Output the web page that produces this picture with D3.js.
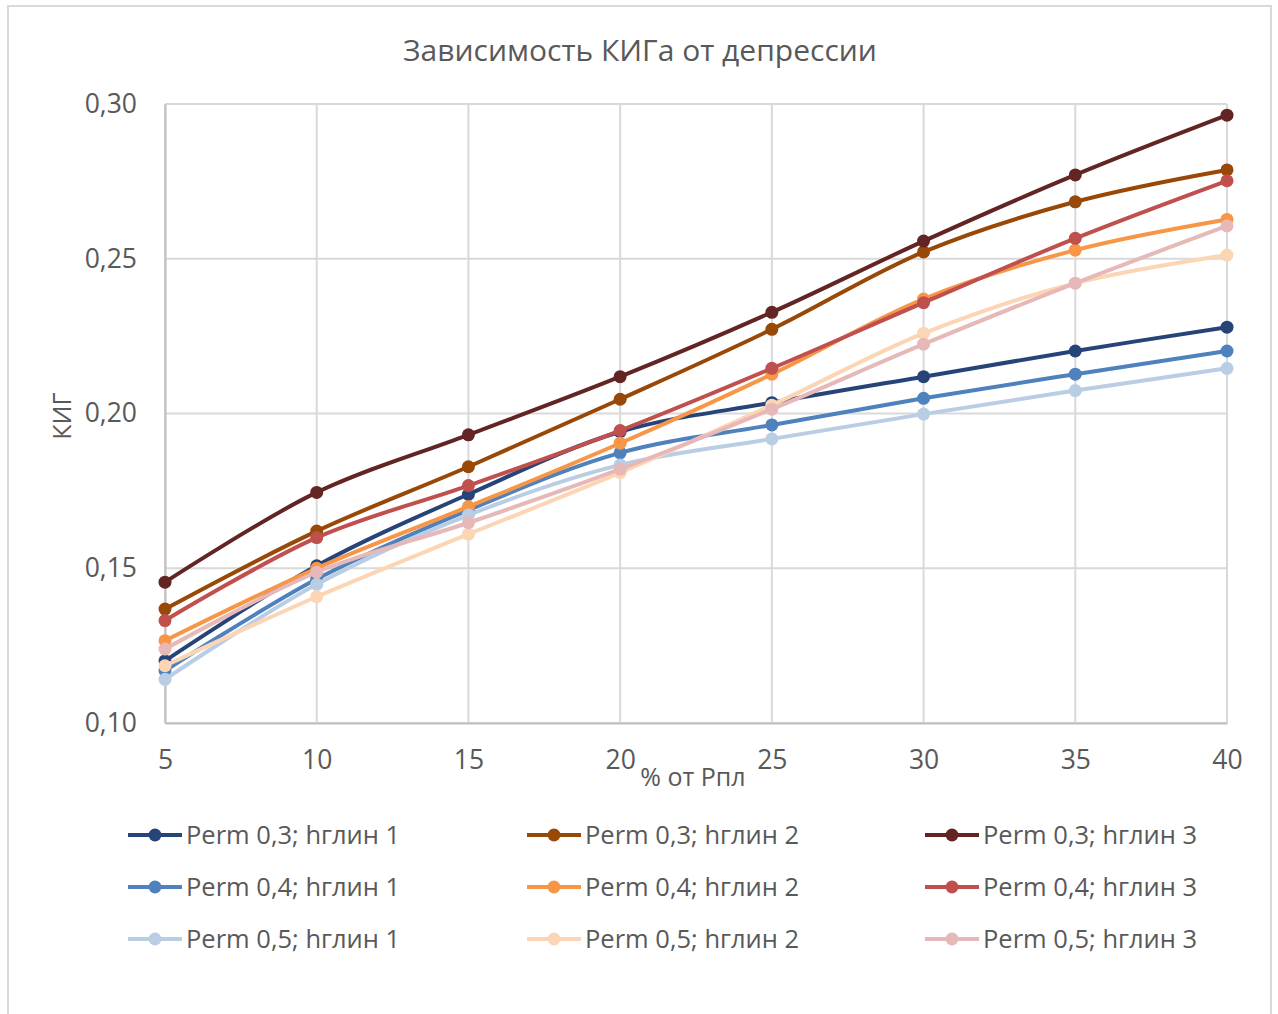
<!DOCTYPE html>
<html>
<head>
<meta charset="utf-8">
<script src="https://cdn.jsdelivr.net/npm/d3@7"></script>
<style>
  html, body { margin: 0; padding: 0; background: #fff; }
  svg { display: block; font-family: "Open Sans", "Noto Sans", sans-serif; }
</style>
</head>
<body>
<svg id="chart" width="1278" height="1014"></svg>
<script>
// Depression levels (% of reservoir pressure)
const depressions = [5, 10, 15, 20, 25, 30, 35, 40];
const yTicks = [0.10, 0.15, 0.20, 0.25, 0.30];

// Gas recovery factor per series
const perm03_h1 = [0.1201, 0.1508, 0.1739, 0.1941, 0.2035, 0.2119, 0.2202, 0.2279];
const perm03_h2 = [0.1368, 0.1620, 0.1828, 0.2046, 0.2272, 0.2522, 0.2684, 0.2787];
const perm03_h3 = [0.1455, 0.1745, 0.1931, 0.2119, 0.2327, 0.2557, 0.2771, 0.2964];
const perm04_h1 = [0.1169, 0.1465, 0.1688, 0.1873, 0.1963, 0.2049, 0.2127, 0.2202];
const perm04_h2 = [0.1266, 0.1500, 0.1699, 0.1904, 0.2127, 0.2370, 0.2528, 0.2627];
const perm04_h3 = [0.1331, 0.1599, 0.1767, 0.1945, 0.2146, 0.2358, 0.2566, 0.2752];
const perm05_h1 = [0.1141, 0.1448, 0.1672, 0.1834, 0.1918, 0.1998, 0.2074, 0.2146];
const perm05_h2 = [0.1185, 0.1408, 0.1610, 0.1809, 0.2027, 0.2259, 0.2421, 0.2512];
const perm05_h3 = [0.1239, 0.1487, 0.1647, 0.1820, 0.2014, 0.2224, 0.2421, 0.2606];

const seriesNames = [
  "Perm 0,3; hглин 1", "Perm 0,3; hглин 2", "Perm 0,3; hглин 3",
  "Perm 0,4; hглин 1", "Perm 0,4; hглин 2", "Perm 0,4; hглин 3",
  "Perm 0,5; hглин 1", "Perm 0,5; hглин 2", "Perm 0,5; hглин 3"
];
const seriesValues = [
  perm03_h1, perm03_h2, perm03_h3,
  perm04_h1, perm04_h2, perm04_h3,
  perm05_h1, perm05_h2, perm05_h3
];
const seriesColors = [
  "#264478", "#984807", "#632523",
  "#4F81BD", "#F79646", "#C0504D",
  "#B9CDE5", "#FCD5B5", "#E6B9B8"
];

const svg = d3.select("#chart");
const textColor = "#595959";
const gridColor = "#d9d9d9";

// outer chart frame
svg.append("rect")
  .attr("x", 8).attr("y", 6)
  .attr("width", 1263).attr("height", 1020)
  .attr("fill", "#fff")
  .attr("stroke", gridColor).attr("stroke-width", 2);

const x = d3.scaleLinear().domain([5, 40]).range([165, 1227]);
const y = d3.scaleLinear().domain([0.10, 0.30]).range([723, 104]);

// grid
const grid = svg.append("g");
grid.selectAll("line.h").data(yTicks).join("line")
  .attr("x1", x(5)).attr("x2", x(40))
  .attr("y1", d => y(d)).attr("y2", d => y(d))
  .attr("stroke", gridColor).attr("stroke-width", 2);
grid.selectAll("line.v").data(depressions).join("line")
  .attr("x1", d => x(d)).attr("x2", d => x(d))
  .attr("y1", y(0.10)).attr("y2", y(0.30))
  .attr("stroke", gridColor).attr("stroke-width", 2);

// axes
const fmt = d => d3.format(".2f")(d).replace(".", ",");
const yAxis = svg.append("g")
  .attr("transform", `translate(${x(5)},0)`)
  .call(d3.axisLeft(y).tickValues(yTicks).tickFormat(fmt).tickSize(0).tickPadding(28));
const xAxis = svg.append("g")
  .attr("transform", `translate(0,${y(0.10)})`)
  .call(d3.axisBottom(x).tickValues(depressions).tickFormat(d3.format("d")).tickSize(0).tickPadding(27));
[yAxis, xAxis].forEach(a => {
  a.select(".domain").attr("stroke", "#bfbfbf").attr("stroke-width", 2);
  a.selectAll("text").attr("fill", textColor).attr("font-size", 26.5)
    .attr("font-family", '"Open Sans", sans-serif');
});

// title and axis titles
svg.append("text")
  .attr("x", 640).attr("y", 61)
  .attr("text-anchor", "middle")
  .attr("fill", textColor).attr("font-size", 30)
  .text("Зависимость КИГа от депрессии");
svg.append("text")
  .attr("x", 693).attr("y", 786)
  .attr("text-anchor", "middle")
  .attr("fill", textColor).attr("font-size", 25)
  .text("% от Рпл");
svg.append("text")
  .attr("transform", "translate(71,416) rotate(-90)")
  .attr("text-anchor", "middle")
  .attr("fill", textColor).attr("font-size", 25)
  .text("КИГ");

// series lines and markers
const line = d3.line()
  .x((d, i) => x(depressions[i]))
  .y(d => y(d))
  .curve(d3.curveCatmullRom.alpha(0.5));

const plot = svg.append("g");
seriesValues.forEach((vals, s) => {
  const g = plot.append("g");
  g.append("path")
    .attr("d", line(vals))
    .attr("fill", "none")
    .attr("stroke", seriesColors[s])
    .attr("stroke-width", 4)
    .attr("stroke-linecap", "round")
    .attr("stroke-linejoin", "round");
  g.selectAll("circle").data(vals).join("circle")
    .attr("cx", (d, i) => x(depressions[i]))
    .attr("cy", d => y(d))
    .attr("r", 6.5)
    .attr("fill", seriesColors[s]);
});

// legend: 3 columns x 3 rows
const colX = [128, 527, 925];
const rowY = [835, 887, 939];
const legend = svg.append("g");
seriesNames.forEach((name, i) => {
  const lx = colX[i % 3];
  const ly = rowY[Math.floor(i / 3)];
  const g = legend.append("g").attr("transform", `translate(${lx},${ly})`);
  g.append("line").attr("x1", 0).attr("x2", 54).attr("y1", 0).attr("y2", 0)
    .attr("stroke", seriesColors[i]).attr("stroke-width", 4);
  g.append("circle").attr("cx", 27).attr("cy", 0).attr("r", 6.5)
    .attr("fill", seriesColors[i]);
  g.append("text").attr("x", 58).attr("y", 0).attr("dy", "0.35em")
    .attr("fill", textColor).attr("font-size", 25.5)
    .text(name);
});
</script>
</body>
</html>
